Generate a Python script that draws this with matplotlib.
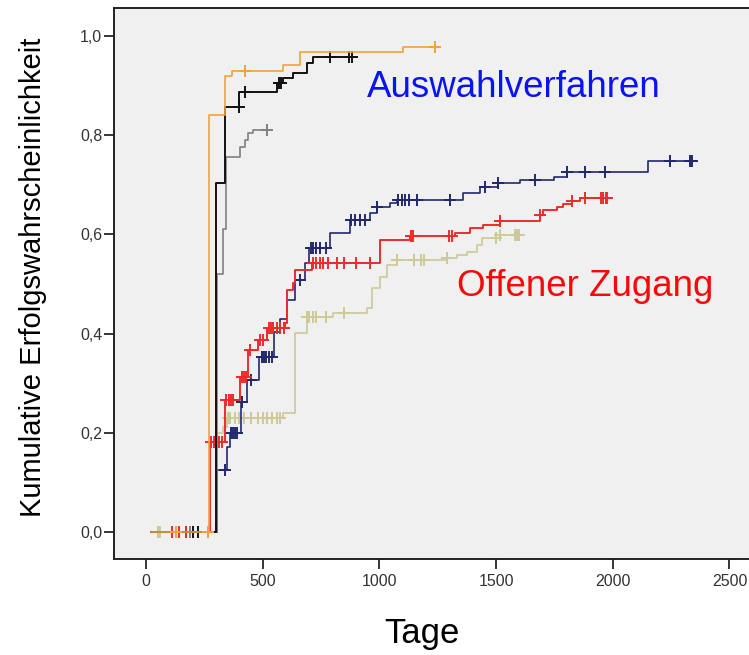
import numpy as np
import matplotlib
matplotlib.use("Agg")
import matplotlib.pyplot as plt

plt.rcParams['font.family'] = ['Liberation Sans', 'DejaVu Sans']

# ---- Daten ----
start_tag = 20

orange_t = [270, 338, 370, 587, 660, 1100]
orange_s = [0.840, 0.920, 0.930, 0.942, 0.968, 0.978]
orange_end = 1250
orange_cens = [130, 265, 424, 1238]

black_t = [300, 338, 400, 561, 587, 630, 690, 715]
black_s = [0.704, 0.857, 0.887, 0.905, 0.915, 0.925, 0.945, 0.958]
black_end = 883
black_cens = [200, 225, 398, 424, 570, 580, 788, 870, 883]

gray_t = [304, 330, 343, 403, 424, 437, 460]
gray_s = [0.520, 0.610, 0.756, 0.776, 0.790, 0.804, 0.810]
gray_end = 518
gray_cens = [190, 518]

navy_t = [303, 348, 360, 406, 431, 486, 548, 575, 603, 638, 680, 700, 788, 874,
          960, 990, 1045, 1075, 1358, 1431, 1508, 1602, 1750, 1804, 2151]
navy_s = [0.125, 0.171, 0.200, 0.262, 0.306, 0.353, 0.403, 0.430, 0.468, 0.508,
          0.542, 0.572, 0.602, 0.629, 0.643, 0.656, 0.663, 0.669, 0.683, 0.696,
          0.704, 0.710, 0.716, 0.726, 0.748]
navy_end = 2339
navy_cens = [170, 338, 365, 372, 380, 392, 412, 450, 495, 505, 515, 528, 540, 660,
             705, 715, 730, 745, 770, 880, 895, 915, 940, 990, 1080, 1095, 1110,
             1125, 1160, 1302, 1452, 1508, 1667, 1804, 1881, 1967, 2245, 2330, 2339]

red_t = [274, 338, 403, 438, 480, 517, 596, 603, 630, 638, 710, 1003, 1131, 1324,
         1388, 1444, 1517, 1688, 1701, 1761, 1787, 1825, 1860]
red_s = [0.181, 0.266, 0.313, 0.367, 0.387, 0.411, 0.421, 0.488, 0.502, 0.528,
         0.542, 0.589, 0.597, 0.603, 0.613, 0.619, 0.627, 0.639, 0.649, 0.656,
         0.661, 0.667, 0.673]
red_end = 1975
red_cens = [110, 140, 170, 265, 280, 290, 300, 315, 325, 345, 355, 365, 375, 410,
            420, 430, 445, 490, 500, 525, 535, 545, 560, 575, 590, 715, 730, 745,
            760, 780, 820, 850, 900, 960, 1135, 1145, 1300, 1310, 1517, 1688, 1825,
            1881, 1950, 1960, 1970, 1975]

khaki_t = [303, 330, 346, 588, 638, 688, 801, 945, 967, 1003, 1031, 1074, 1288,
           1331, 1374, 1417, 1438, 1517]
khaki_s = [0.200, 0.212, 0.229, 0.240, 0.401, 0.434, 0.441, 0.451, 0.492, 0.514,
           0.538, 0.548, 0.552, 0.558, 0.564, 0.579, 0.593, 0.599]
khaki_end = 1602
khaki_cens = [50, 60, 130, 350, 360, 380, 400, 420, 450, 480, 500, 520, 540, 560,
              575, 690, 700, 715, 730, 770, 850, 1075, 1150, 1180, 1190, 1290, 1500,
              1517, 1580, 1590, 1600]

x_ticks = [0, 500, 1000, 1500, 2000, 2500]
y_ticks = [0.0, 0.2, 0.4, 0.6, 0.8, 1.0]


def curve(ax, t, s, end, cens, color, lw=1.2, z=2):
    xs = np.array([start_tag] + t + [end], dtype=float)
    ys = np.array([0.0] + s + [s[-1]])
    ax.step(xs, ys, where='post', color=color, lw=lw, zorder=z)
    c = np.array(cens, dtype=float)
    idx = np.searchsorted(xs, c, side='right') - 1
    ax.plot(c, ys[np.clip(idx, 0, len(ys) - 1)], ls='none', marker='+',
            ms=9, mew=1.4, color=color, zorder=z)


fig = plt.figure(figsize=(7.49, 6.55), dpi=100)
ax = fig.add_axes([0.1522, 0.1466, 0.87, 0.8412])
ax.set_facecolor('#f0f0f0')

curve(ax, khaki_t, khaki_s, khaki_end, khaki_cens, '#cdc998', z=2)
curve(ax, navy_t, navy_s, navy_end, navy_cens, '#23286e', z=3)
curve(ax, red_t, red_s, red_end, red_cens, '#ee2b2b', lw=1.4, z=4)
curve(ax, gray_t, gray_s, gray_end, gray_cens, '#808080', z=5)
curve(ax, black_t, black_s, black_end, black_cens, '#111111', lw=1.4, z=6)
curve(ax, orange_t, orange_s, orange_end, orange_cens, '#f2a23c', z=7)

ax.set_xlim(-137, 2655)
ax.set_ylim(-0.0544, 1.0565)
ax.set_xticks(x_ticks)
ax.set_xticklabels([str(v) for v in x_ticks])
ax.set_yticks(y_ticks)
ax.set_yticklabels([f"{v:.1f}".replace('.', ',') for v in y_ticks])
ax.tick_params(axis='both', direction='out', length=7.5, width=1.1,
               colors='black', labelcolor='#333333', labelsize=11.5)
ax.tick_params(axis='y', pad=1)
ax.tick_params(axis='x', pad=3.5)
for sp in ax.spines.values():
    sp.set_linewidth(1.4)
    sp.set_color('#222222')

ax.text(947, 0.878, "Auswahlverfahren", color='#0a14f0', fontsize=26.5,
        ha='left', va='baseline')
ax.text(1332, 0.476, "Offener Zugang", color='#f50a0a', fontsize=26.5,
        ha='left', va='baseline')

fig.text(0.5634, 0.0183, "Tage", fontsize=25, ha='center', va='baseline')
fig.text(0.044, 0.577, "Kumulative Erfolgswahrscheinlichkeit", fontsize=21,
         rotation=90, ha='center', va='center')

fig.savefig("out.png", dpi=100)
